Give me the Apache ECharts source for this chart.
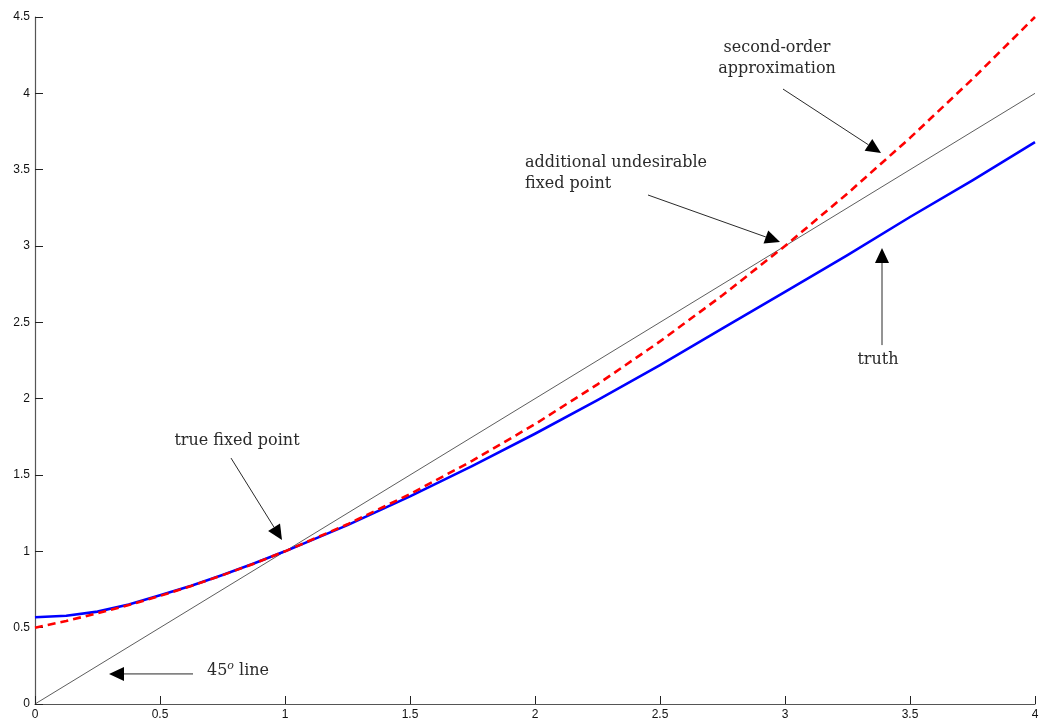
<!DOCTYPE html>
<html><head><meta charset="utf-8">
<script src="https://cdn.jsdelivr.net/npm/echarts@6/dist/echarts.min.js"></script>
<style>html,body{margin:0;padding:0;background:#fff}#c{width:1042px;height:725px}</style>
</head><body><div id="c"></div>
<script>
// ---- data ----
const xValues     = [0, 0.125, 0.25, 0.375, 0.5, 0.625, 0.75, 0.875, 1, 1.25, 1.5, 1.75, 2, 2.25, 2.5, 2.75, 3, 3.25, 3.5, 3.75, 4];
const truth       = [0.568, 0.578, 0.605, 0.652, 0.712, 0.775, 0.845, 0.92, 1.0, 1.172, 1.36, 1.56, 1.77, 1.99, 2.22, 2.46, 2.70, 2.94, 3.19, 3.43, 3.68];
const secondOrder = [0.5, 0.544, 0.594, 0.648, 0.708, 0.773, 0.844, 0.919, 1.0, 1.177, 1.375, 1.594, 1.833, 2.094, 2.375, 2.677, 3.0, 3.344, 3.708, 4.094, 4.5];
const diagonalX   = [0, 4];
const diagonalY   = [0, 4];

// annotation arrows: [tailX, tailY, tipX, tipY] in data units
const arrowTailX = [0.632, 0.784, 2.452, 2.992, 3.388];
const arrowTailY = [0.197, 1.611, 3.334, 4.028, 2.351];
const arrowTipX  = [0.296, 0.988, 2.980, 3.384, 3.388];
const arrowTipY  = [0.197, 1.074, 3.026, 3.609, 2.987];

// annotation texts: anchor in data units
const noteTexts  = ['45{sup|o} line', 'true fixed point', 'additional undesirable\nfixed point', 'second-order\napproximation', 'truth'];
const noteX      = [0.688, 0.808, 1.960, 2.968, 3.372];
const noteY      = [0.216, 1.723, 3.478, 4.228, 2.253];
const noteAlign  = ['left', 'center', 'left', 'center', 'center'];

const xTickInterval = 0.5;
const yTickInterval = 0.5;

const chart = echarts.init(document.getElementById('c'), null, {renderer: 'canvas'});

const axisCommon = {
  axisLine: {show: true, onZero: false, lineStyle: {color: '#555', width: 1.2}},
  axisTick: {show: true, inside: true, length: 8, lineStyle: {color: '#222', width: 1}},
  splitLine: {show: false},
  axisLabel: {color: '#111', fontFamily: 'Liberation Sans', fontSize: 12}
};

const serif = 'DejaVu Serif';

function renderArrow(params, api) {
  const p0 = api.coord([api.value(0), api.value(1)]);
  const p1 = api.coord([api.value(2), api.value(3)]);
  const dx = p1[0] - p0[0], dy = p1[1] - p0[1];
  const L = Math.hypot(dx, dy);
  const ux = dx / L, uy = dy / L;
  const hl = 15, hw = 7;
  const bx = p1[0] - ux * hl, by = p1[1] - uy * hl;
  return {
    type: 'group',
    children: [
      {type: 'line', shape: {x1: p0[0], y1: p0[1], x2: bx, y2: by}, style: {stroke: '#111', lineWidth: 0.9}},
      {type: 'polygon', shape: {points: [[p1[0], p1[1]], [bx - uy * hw, by + ux * hw], [bx + uy * hw, by - ux * hw]]}, style: {fill: '#000'}}
    ]
  };
}

function renderNote(params, api) {
  const i = params.dataIndex;
  const p = api.coord([api.value(0), api.value(1)]);
  return {
    type: 'text',
    x: p[0], y: p[1],
    style: {
      text: noteTexts[i],
      fill: '#2a2a2a',
      font: '16px "' + serif + '"',
      align: noteAlign[i],
      verticalAlign: 'middle',
      lineHeight: 21,
      rich: {
        sup: {fontSize: 11, fontStyle: 'italic', fontFamily: serif, verticalAlign: 'top', lineHeight: 21, padding: [0, 0, 8, 0], fill: '#2a2a2a'}
      }
    }
  };
}

const option = {
  animation: false,
  backgroundColor: '#fff',
  grid: {left: 35, right: 7, top: 17, bottom: 21, containLabel: false},
  xAxis: Object.assign({type: 'value', min: 0, max: 4, interval: xTickInterval}, axisCommon, {
    axisLabel: Object.assign({}, axisCommon.axisLabel, {margin: 5})
  }),
  yAxis: Object.assign({type: 'value', min: 0, max: 4.5, interval: yTickInterval}, axisCommon, {
    axisLabel: Object.assign({}, axisCommon.axisLabel, {margin: 5})
  }),
  series: [
    {
      name: '45 line', type: 'line', symbol: 'none', silent: true,
      data: diagonalX.map((x, i) => [x, diagonalY[i]]),
      lineStyle: {color: '#333', width: 0.8}
    },
    {
      name: 'truth', type: 'line', symbol: 'none', smooth: false, silent: true,
      data: xValues.map((x, i) => [x, truth[i]]),
      lineStyle: {color: '#0000ff', width: 2.6, join: 'round'}
    },
    {
      name: 'second-order approximation', type: 'line', symbol: 'none', smooth: false, silent: true,
      data: xValues.map((x, i) => [x, secondOrder[i]]),
      lineStyle: {color: '#ff0000', width: 2.6, type: [8, 5], join: 'round'}
    },
    {
      name: 'arrows', type: 'custom', silent: true, clip: false,
      data: arrowTailX.map((x, i) => [x, arrowTailY[i], arrowTipX[i], arrowTipY[i]]),
      encode: {x: [0, 2], y: [1, 3]},
      renderItem: renderArrow
    },
    {
      name: 'notes', type: 'custom', silent: true, clip: false,
      data: noteX.map((x, i) => [x, noteY[i]]),
      encode: {x: 0, y: 1},
      renderItem: renderNote
    }
  ]
};
chart.setOption(option);
</script>
</body></html>
